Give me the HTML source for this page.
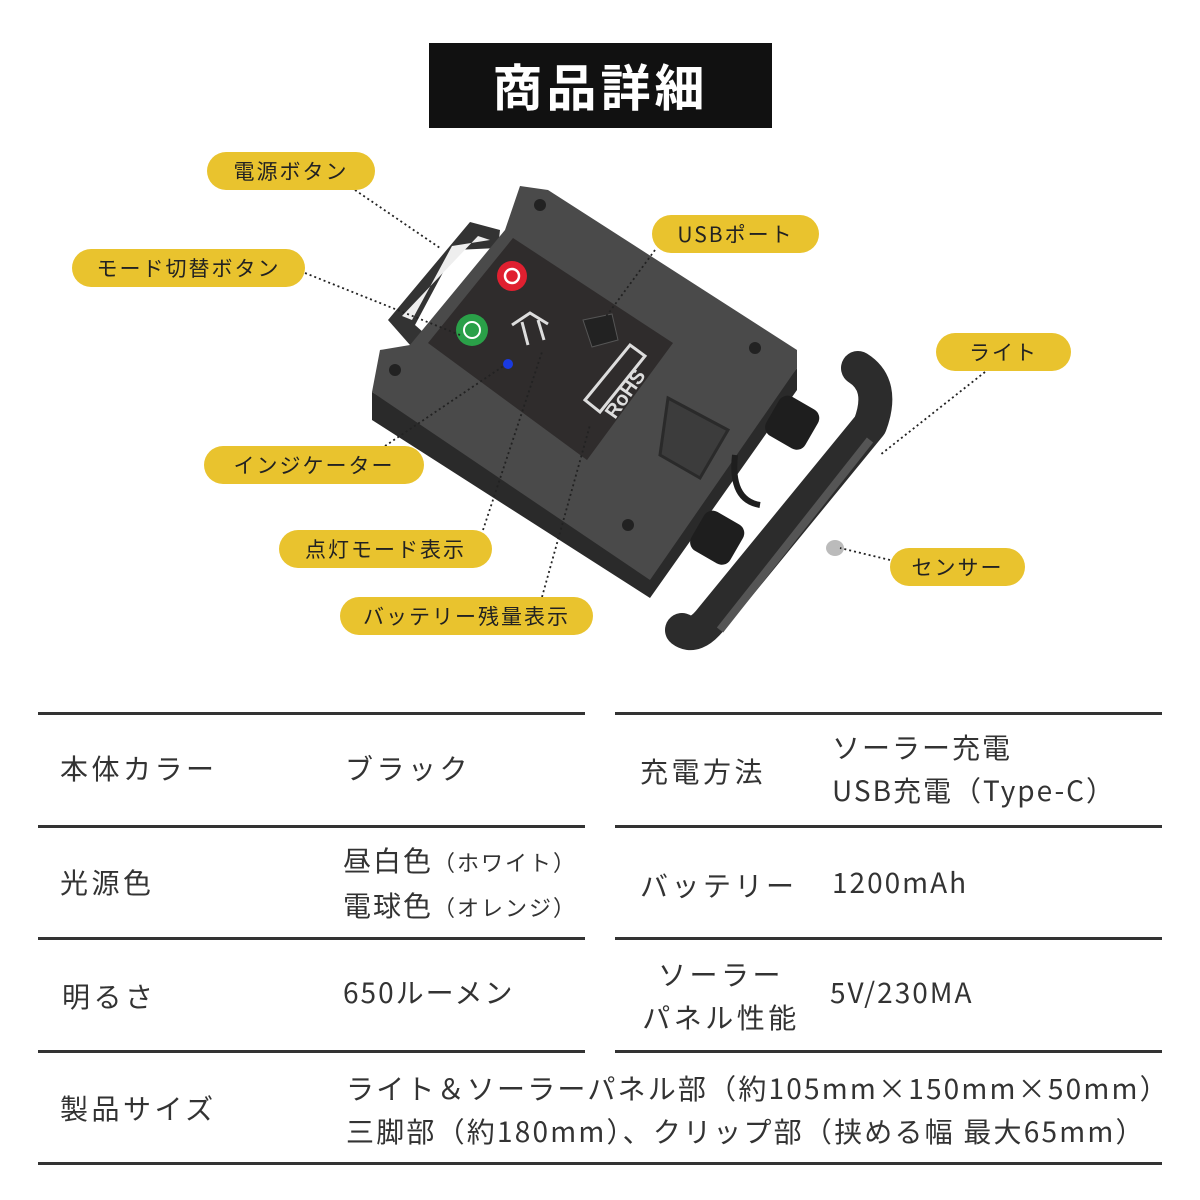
<!DOCTYPE html>
<html><head><meta charset="utf-8"><style>
*{margin:0;padding:0;box-sizing:border-box}
body{width:1200px;height:1200px;background:#fff;position:relative;overflow:hidden;font-family:"Liberation Sans","Noto Sans CJK JP",sans-serif;color:#333}
.t{position:absolute;left:429px;top:43px;width:343px;height:85px;background:#111;color:#fff;font-size:50px;font-weight:bold;text-align:center;line-height:85px;letter-spacing:4px;font-family:"Noto Sans CJK JP",sans-serif}
.p{position:absolute;background:#e9c32e;border-radius:20px;height:38px;line-height:38px;text-align:center;font-size:21px;color:#222;letter-spacing:2px;font-family:"Noto Sans CJK JP",sans-serif}
.hl{position:absolute;height:3px;background:#333}
.c{position:absolute;font-size:28px;color:#333;letter-spacing:3.5px;line-height:43px;font-family:"Noto Sans CJK JP",sans-serif}
.s{font-size:22px}
</style></head><body>
<div class="t">商品詳細</div>
<svg width="1200" height="700" style="position:absolute;left:0;top:0">
<polygon points="470,222 500,230 498,248 455,250 415,325 432,340 410,345 388,320" fill="#333"/>
<polygon points="478,236 490,240 452,246 412,320 402,316" fill="#eee"/>
<polygon points="372,392 650,560 797,368 797,390 650,598 372,420" fill="#2a2a2a"/>
<polygon points="520,186 548,190 797,350 797,368 650,580 372,392 380,350 410,345 505,230" fill="#4a4a4a"/>
<polygon points="513,238 673,343 587,460 428,343" fill="#2f2c2c"/>
<circle cx="512" cy="276" r="15" fill="#e02030"/>
<circle cx="512" cy="276" r="7" fill="none" stroke="#fff" stroke-width="2.5"/>
<circle cx="472" cy="330" r="16" fill="#2aa048"/>
<circle cx="472" cy="330" r="8" fill="none" stroke="#fff" stroke-width="2"/>
<circle cx="508" cy="364" r="5" fill="#1a3ae0"/>
<path d="M512,325 L530,313 L548,324 M522,322 L528,345 M538,320 L544,340" stroke="#ddd" stroke-width="3" fill="none"/>
<polygon points="583,320 612,314 618,340 592,347" fill="#222" stroke="#555"/>
<polygon points="585,400 630,345 645,356 600,412" fill="none" stroke="#ddd" stroke-width="3"/>
<text x="615" y="420" fill="#ddd" font-size="20" font-weight="bold" transform="rotate(-55 615 420)">RoHS</text>
<g fill="#222"><circle cx="540" cy="205" r="6"/><circle cx="755" cy="348" r="6"/><circle cx="628" cy="525" r="6"/><circle cx="395" cy="370" r="6"/></g>
<polygon points="668,398 728,430 700,478 660,455" fill="#3c3c3c" stroke="#2a2a2a" stroke-width="3"/>
<rect x="770" y="400" width="45" height="45" rx="10" fill="#1e1e1e" transform="rotate(30 792 422)"/>
<rect x="695" y="515" width="45" height="45" rx="10" fill="#1e1e1e" transform="rotate(30 717 537)"/>
<path d="M735,455 Q730,500 760,505" stroke="#1e1e1e" stroke-width="6" fill="none"/>
<path d="M858,368 Q885,385 870,425 L712,618 Q695,640 682,630" stroke="#2c2c2c" stroke-width="34" fill="none" stroke-linecap="round" stroke-linejoin="round"/>
<path d="M870,440 L720,630" stroke="#555" stroke-width="8" fill="none"/>
<ellipse cx="835" cy="548" rx="9" ry="8" fill="#bbb"/>
<g stroke="#222" stroke-width="1.8" stroke-dasharray="2 3" fill="none">
<line x1="355" y1="190" x2="440" y2="248"/>
<line x1="305" y1="273" x2="460" y2="335"/>
<line x1="655" y1="250" x2="605" y2="318"/>
<line x1="985" y1="372" x2="880" y2="455"/>
<line x1="385" y1="446" x2="505" y2="365"/>
<line x1="483" y1="530" x2="542" y2="352"/>
<line x1="890" y1="560" x2="840" y2="548"/>
<line x1="542" y1="597" x2="590" y2="425"/>
</g>
</svg>
<div class="p" style="left:207px;top:152px;width:168px">電源ボタン</div>
<div class="p" style="left:72px;top:249px;width:233px">モード切替ボタン</div>
<div class="p" style="left:652px;top:215px;width:167px">USBポート</div>
<div class="p" style="left:936px;top:333px;width:135px">ライト</div>
<div class="p" style="left:204px;top:446px;width:220px">インジケーター</div>
<div class="p" style="left:279px;top:530px;width:213px">点灯モード表示</div>
<div class="p" style="left:890px;top:548px;width:135px">センサー</div>
<div class="p" style="left:340px;top:597px;width:253px">バッテリー残量表示</div>

<div class="hl" style="left:38px;top:712px;width:547px"></div>
<div class="hl" style="left:38px;top:825px;width:547px"></div>
<div class="hl" style="left:38px;top:937px;width:547px"></div>
<div class="hl" style="left:38px;top:1050px;width:547px"></div>
<div class="hl" style="left:615px;top:712px;width:547px"></div>
<div class="hl" style="left:615px;top:825px;width:547px"></div>
<div class="hl" style="left:615px;top:937px;width:547px"></div>
<div class="hl" style="left:615px;top:1050px;width:547px"></div>
<div class="hl" style="left:38px;top:1162px;width:1124px"></div>

<div class="c" style="left:60px;top:747px">本体カラー</div>
<div class="c" style="left:345px;top:747px">ブラック</div>
<div class="c" style="left:60px;top:861px">光源色</div>
<div class="c" style="left:343px;top:839px;letter-spacing:2px">昼白色<span class="s">（ホワイト）</span><br>電球色<span class="s">（オレンジ）</span></div>
<div class="c" style="left:62px;top:975px">明るさ</div>
<div class="c" style="left:343px;top:971px;letter-spacing:2px">650ルーメン</div>
<div class="c" style="left:60px;top:1087px">製品サイズ</div>
<div class="c" style="left:346px;top:1067px;white-space:nowrap;letter-spacing:2.2px">ライト＆ソーラーパネル部（約105mm×150mm×50mm）<br>三脚部（約180mm）、クリップ部（挟める幅 最大65mm）</div>
<div class="c" style="left:640px;top:750px">充電方法</div>
<div class="c" style="left:832px;top:726px;letter-spacing:2px">ソーラー充電<br>USB充電（Type-C）</div>
<div class="c" style="left:640px;top:864px">バッテリー</div>
<div class="c" style="left:832px;top:861px;letter-spacing:2px">1200mAh</div>
<div class="c" style="left:636px;top:953px;text-align:center;width:170px">ソーラー<br>パネル性能</div>
<div class="c" style="left:830px;top:971px;letter-spacing:2px">5V/230MA</div>
</body></html>
